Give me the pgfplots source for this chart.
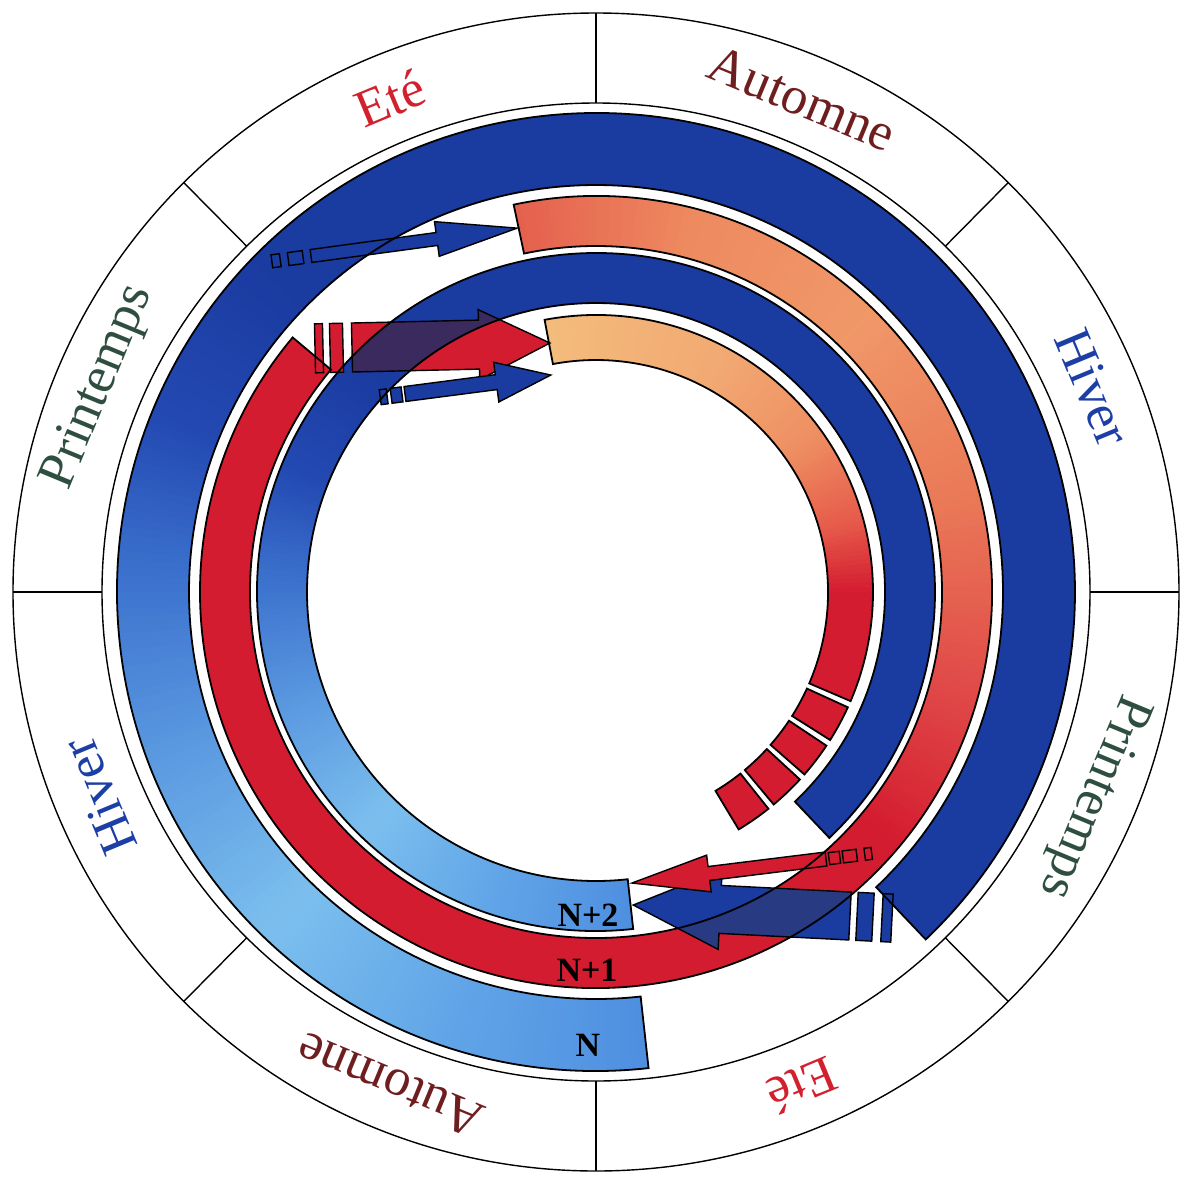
\documentclass[border=0pt]{standalone}
\usepackage{fontspec}
\setmainfont{Liberation Serif}
\usepackage{pgfplots}
\pgfplotsset{compat=1.18}

\definecolor{dkblue}{HTML}{1A3BA0}
\definecolor{nb0}{HTML}{4E8FE0}
\definecolor{nb1}{HTML}{62A6E8}
\definecolor{nb2}{HTML}{7CBFEE}
\definecolor{nb3}{HTML}{5A98E0}
\definecolor{nb4}{HTML}{3C72CE}
\definecolor{nb5}{HTML}{2349B2}
\definecolor{red1}{HTML}{D41C30}
\definecolor{or0}{HTML}{E4604E}
\definecolor{or1}{HTML}{EE8A60}
\definecolor{or2}{HTML}{F09868}
\definecolor{or3}{HTML}{EA7A58}
\definecolor{or4}{HTML}{E04A48}
\definecolor{ye0}{HTML}{F3BC7C}
\definecolor{ye1}{HTML}{F2A872}
\definecolor{ye2}{HTML}{EE8E62}
\definecolor{ye3}{HTML}{E65A4A}
\definecolor{darkP}{HTML}{3A2A5E}
\definecolor{darkN}{HTML}{283A82}
\definecolor{txtRed}{HTML}{D2202E}
\definecolor{txtBrown}{HTML}{6E1E1E}
\definecolor{txtBlue}{HTML}{1C3FA6}
\definecolor{txtGreen}{HTML}{2E4E40}

% annular sector: r_in, r_out, angle a, angle b, fill
\newcommand\sect[5]{\edef\tmp{\noexpand\fill[fill={#5}] (axis cs:{596+#2*cos(#3)},{592-#2*sin(#3)}) arc[start angle=#3,end angle=#4,radius=#2pt] -- (axis cs:{596+#1*cos(#4)},{592-#1*sin(#4)}) arc[start angle=#4,end angle=#3,radius=#1pt] -- cycle;}\tmp}
\newcommand\sectd[4]{\edef\tmp{\noexpand\draw[line width=1.8pt] (axis cs:{596+#2*cos(#3)},{592-#2*sin(#3)}) arc[start angle=#3,end angle=#4,radius=#2pt] -- (axis cs:{596+#1*cos(#4)},{592-#1*sin(#4)}) arc[start angle=#4,end angle=#3,radius=#1pt] -- cycle;}\tmp}
% colour ramp along the band, cut into n pieces
\newcommand\grad[7]{%
  \foreach \k in {1,...,#7}{%
    \pgfmathsetmacro\angA{#3+(\k-1)*(#4-#3)/#7}%
    \pgfmathsetmacro\angB{#3+\k*(#4-#3)/#7+ifthenelse(#4>#3,0.6,-0.6)}%
    \pgfmathtruncatemacro\pct{100-100*(\k-0.5)/#7}%
    \sect{#1}{#2}{\angA}{\angB}{#5!\pct!#6}%
  }}
% point on an arrow: origin, direction, s along, t across
\newcommand\PT[6]{(axis cs:{#1+#3*#5-#4*#6},{#2+#4*#5+#3*#6})}
\newcommand\Ta[2]{\PT{311}{256}{0.991}{-0.134}{#1}{#2}}
\newcommand\Tb[2]{\PT{352}{347.5}{0.9997}{-0.0227}{#1}{#2}}
\newcommand\Tc[2]{\PT{405}{394}{0.9917}{-0.129}{#1}{#2}}
\newcommand\Ba[2]{\PT{826}{859}{-0.9924}{0.1228}{#1}{#2}}
\newcommand\Bb[2]{\PT{850}{916}{-0.9987}{-0.0506}{#1}{#2}}

\newcommand\season[3]{\node[text=#2,rotate=#1-90,font=\fontsize{53}{53}\selectfont] at (axis cs:{596+538*cos(#1)},{592-534*sin(#1)}) {#3};}

\begin{document}
\begin{tikzpicture}
\begin{axis}[x=1pt,y=1pt,y dir=reverse,xmin=0,xmax=1181,ymin=0,ymax=1176,
  hide axis,scale only axis]
\path (axis cs:0,0) rectangle (axis cs:1181,1176);

% season ring
\draw[line width=1.4pt] (axis cs:596,592) ellipse[x radius=583pt,y radius=579pt];
\draw[line width=1.4pt] (axis cs:596,592) ellipse[x radius=494pt,y radius=489pt];
\foreach \a in {0,45,...,315}{%
  \edef\tmp{\noexpand\draw[line width=1.4pt] (axis cs:{596+494*cos(\a)},{592-489*sin(\a)}) -- (axis cs:{596+583*cos(\a)},{592-579*sin(\a)});}\tmp}
\season{112.5}{txtRed}{Eté}
\season{67.5}{txtBrown}{Automne}
\season{22.5}{txtBlue}{Hiver}
\season{-22.5}{txtGreen}{Printemps}
\season{-67.5}{txtRed}{Eté}
\season{-112.5}{txtBrown}{Automne}
\season{-157.5}{txtBlue}{Hiver}
\season{157.5}{txtGreen}{Printemps}

% ring N
\grad{407}{479}{276.3}{250}{nb0}{nb1}{26}
\grad{407}{479}{250}{226}{nb1}{nb2}{24}
\grad{407}{479}{226}{200}{nb2}{nb3}{26}
\grad{407}{479}{200}{178}{nb3}{nb4}{22}
\grad{407}{479}{178}{158}{nb4}{nb5}{20}
\grad{407}{479}{158}{135}{nb5}{dkblue}{23}
\sect{407}{479}{135}{-46.5}{dkblue}
% ring N+1 (orange to red)
\grad{346}{396}{102}{75}{or0}{or1}{27}
\grad{346}{396}{75}{45}{or1}{or2}{30}
\grad{346}{396}{45}{15}{or2}{or3}{30}
\grad{346}{396}{15}{-15}{or3}{or4}{30}
\grad{346}{396}{-15}{-40}{or4}{red1}{25}
\sect{346}{396}{-40}{-220}{red1}
% ring N+2
\grad{289}{339}{276.3}{250}{nb0}{nb1}{26}
\grad{289}{339}{250}{226}{nb1}{nb2}{24}
\grad{289}{339}{226}{200}{nb2}{nb3}{26}
\grad{289}{339}{200}{178}{nb3}{nb4}{22}
\grad{289}{339}{178}{158}{nb4}{nb5}{20}
\grad{289}{339}{158}{135}{nb5}{dkblue}{23}
\sect{289}{339}{135}{-46.5}{dkblue}
% inner ring (light orange to red, then blocks)
\grad{232}{277}{100.7}{60}{ye0}{ye1}{41}
\grad{232}{277}{60}{35}{ye1}{ye2}{25}
\grad{232}{277}{35}{15}{ye2}{ye3}{20}
\grad{232}{277}{15}{0}{ye3}{red1}{15}
\sect{232}{277}{0}{-23.2}{red1}
\sect{232}{277}{-24.6}{-32.3}{red1}
\sect{232}{277}{-33.7}{-41.2}{red1}
\sect{232}{277}{-42.6}{-50.1}{red1}
\sect{232}{277}{-51.5}{-59}{red1}

% top arrows
\edef\tmp{\noexpand\filldraw[fill=dkblue,line width=1.4pt] \Ta{0}{-6.5} -- \Ta{127}{-6.5} -- \Ta{127}{-17.5} -- \Ta{208}{0} -- \Ta{127}{17.5} -- \Ta{127}{6.5} -- \Ta{0}{6.5} -- cycle;}\tmp
\edef\tmp{\noexpand\filldraw[fill=dkblue,line width=1.4pt] \Ta{-23}{-6.5} -- \Ta{-8}{-6.5} -- \Ta{-8}{6.5} -- \Ta{-23}{6.5} -- cycle;}\tmp
\edef\tmp{\noexpand\filldraw[fill=dkblue,line width=1.4pt] \Ta{-39.5}{-6.5} -- \Ta{-31}{-6.5} -- \Ta{-31}{6.5} -- \Ta{-39.5}{6.5} -- cycle;}\tmp

\edef\tmp{\noexpand\fill[fill=red1] \Tb{0}{-24.5} -- \Tb{127}{-24.5} -- \Tb{127}{-35} -- \Tb{198}{0} -- \Tb{127}{35} -- \Tb{127}{24.5} -- \Tb{0}{24.5} -- cycle;}\tmp
\begin{scope}
\edef\tmp{\noexpand\clip \Tb{0}{-24.5} -- \Tb{127}{-24.5} -- \Tb{127}{-35} -- \Tb{198}{0} -- \Tb{127}{35} -- \Tb{127}{24.5} -- \Tb{0}{24.5} -- cycle;}\tmp
\sect{289}{339}{276.3}{-46.5}{darkP}
\end{scope}
\edef\tmp{\noexpand\draw[line width=1.4pt] \Tb{0}{-24.5} -- \Tb{127}{-24.5} -- \Tb{127}{-35} -- \Tb{198}{0} -- \Tb{127}{35} -- \Tb{127}{24.5} -- \Tb{0}{24.5} -- cycle;}\tmp
\edef\tmp{\noexpand\filldraw[fill=red1,line width=1.4pt] \Tb{-22}{-24.5} -- \Tb{-9}{-24.5} -- \Tb{-9}{24.5} -- \Tb{-22}{24.5} -- cycle;}\tmp
\edef\tmp{\noexpand\filldraw[fill=red1,line width=1.4pt] \Tb{-37}{-24.5} -- \Tb{-29}{-24.5} -- \Tb{-29}{24.5} -- \Tb{-37}{24.5} -- cycle;}\tmp

\edef\tmp{\noexpand\filldraw[fill=dkblue,line width=1.4pt] \Tc{0}{-7.5} -- \Tc{92}{-7.5} -- \Tc{92}{-20} -- \Tc{147}{0} -- \Tc{92}{20} -- \Tc{92}{7.5} -- \Tc{0}{7.5} -- cycle;}\tmp
\edef\tmp{\noexpand\filldraw[fill=dkblue,line width=1.4pt] \Tc{-14}{-7.5} -- \Tc{-3}{-7.5} -- \Tc{-3}{7.5} -- \Tc{-14}{7.5} -- cycle;}\tmp
\edef\tmp{\noexpand\filldraw[fill=dkblue,line width=1.4pt] \Tc{-25}{-7.5} -- \Tc{-18}{-7.5} -- \Tc{-18}{7.5} -- \Tc{-25}{7.5} -- cycle;}\tmp

% bottom arrows
\edef\tmp{\noexpand\fill[fill=dkblue] \Bb{0}{-24} -- \Bb{130}{-24} -- \Bb{130}{-40} -- \Bb{217}{0} -- \Bb{130}{40} -- \Bb{130}{24} -- \Bb{0}{24} -- cycle;}\tmp
\begin{scope}
\edef\tmp{\noexpand\clip \Bb{0}{-24} -- \Bb{130}{-24} -- \Bb{130}{-40} -- \Bb{217}{0} -- \Bb{130}{40} -- \Bb{130}{24} -- \Bb{0}{24} -- cycle;}\tmp
\sect{346}{396}{102}{-220}{darkN}
\end{scope}
\edef\tmp{\noexpand\draw[line width=1.4pt] \Bb{0}{-24} -- \Bb{130}{-24} -- \Bb{130}{-40} -- \Bb{217}{0} -- \Bb{130}{40} -- \Bb{130}{24} -- \Bb{0}{24} -- cycle;}\tmp
\edef\tmp{\noexpand\filldraw[fill=dkblue,line width=1.4pt] \Bb{-23}{-24} -- \Bb{-7}{-24} -- \Bb{-7}{24} -- \Bb{-23}{24} -- cycle;}\tmp
\edef\tmp{\noexpand\filldraw[fill=dkblue,line width=1.4pt] \Bb{-42}{-24} -- \Bb{-32}{-24} -- \Bb{-32}{24} -- \Bb{-42}{24} -- cycle;}\tmp

\edef\tmp{\noexpand\filldraw[fill=red1,line width=1.4pt] \Ba{0}{-7} -- \Ba{118}{-7} -- \Ba{118}{-18.5} -- \Ba{195.5}{0} -- \Ba{118}{18.5} -- \Ba{118}{7} -- \Ba{0}{7} -- cycle;}\tmp
\edef\tmp{\noexpand\filldraw[fill=red1,line width=1.4pt] \Ba{-14}{-6} -- \Ba{-3}{-6} -- \Ba{-3}{6} -- \Ba{-14}{6} -- cycle;}\tmp
\edef\tmp{\noexpand\filldraw[fill=red1,line width=1.4pt] \Ba{-31}{-6} -- \Ba{-17}{-6} -- \Ba{-17}{6} -- \Ba{-31}{6} -- cycle;}\tmp
\edef\tmp{\noexpand\filldraw[fill=red1,line width=1.4pt] \Ba{-46}{-6} -- \Ba{-39}{-6} -- \Ba{-39}{6} -- \Ba{-46}{6} -- cycle;}\tmp

% band outlines
\sectd{407}{479}{276.3}{-46.5}
\sectd{346}{396}{102}{-220}
\sectd{289}{339}{276.3}{-46.5}
\sectd{232}{277}{100.7}{-23.2}
\sectd{232}{277}{-24.6}{-32.3}
\sectd{232}{277}{-33.7}{-41.2}
\sectd{232}{277}{-42.6}{-50.1}
\sectd{232}{277}{-51.5}{-59}

\node[font=\bfseries\fontsize{34}{34}\selectfont] at (axis cs:588,915) {N+2};
\node[font=\bfseries\fontsize{34}{34}\selectfont] at (axis cs:587,970) {N+1};
\node[font=\bfseries\fontsize{34}{34}\selectfont] at (axis cs:588,1045) {N};
\end{axis}
\end{tikzpicture}
\end{document}
